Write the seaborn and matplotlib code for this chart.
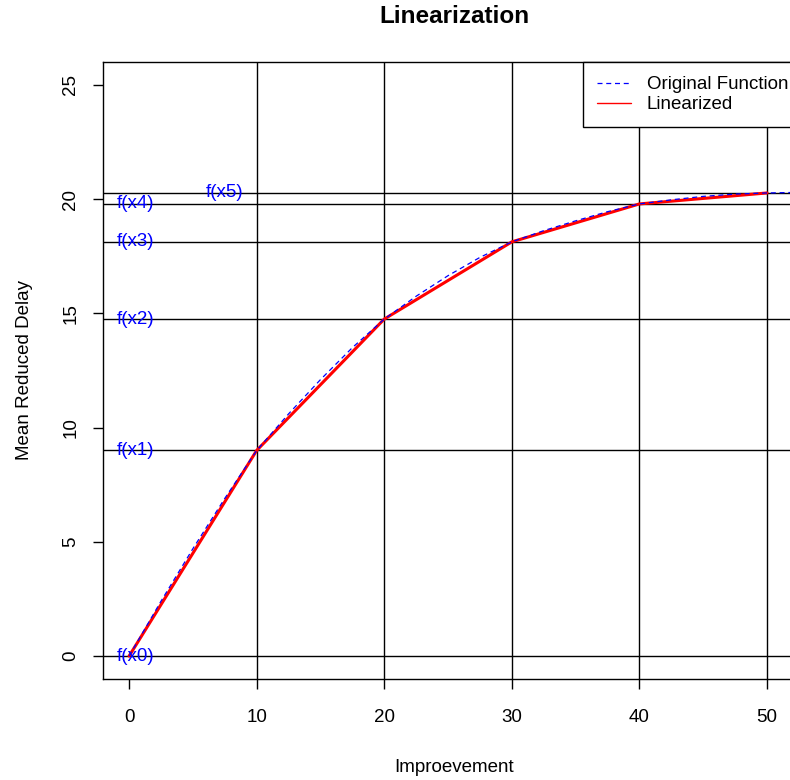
import pandas as pd
import matplotlib
matplotlib.use("Agg")
import matplotlib.pyplot as plt
import seaborn as sns
from matplotlib.lines import Line2D

# breakpoints of the piecewise linear approximation
x_break = [0, 10, 20, 30, 40, 50]
f_break = [0.0, 9.0, 14.75, 18.13, 19.79, 20.27]
break_labels = ["f(x0)", "f(x1)", "f(x2)", "f(x3)", "f(x4)", "f(x5)"]
label_x = [0.5, 0.5, 0.5, 0.5, 0.5, 7.5]

# original (smooth) function
x_orig = [0, 2.5, 5, 7.5, 10, 12.5, 15, 17.5, 20, 22.5, 25, 27.5, 30,
          32.5, 35, 37.5, 40, 42.5, 45, 47.5, 50, 53]
y_orig = [0.0, 2.4, 4.7, 6.9, 9.0, 10.6, 12.1, 13.5, 14.75, 15.75, 16.65,
          17.45, 18.13, 18.62, 19.05, 19.45, 19.79, 19.97, 20.12, 20.22,
          20.27, 20.30]

x_ticks = [0, 10, 20, 30, 40, 50]
y_ticks = [0, 5, 10, 15, 20, 25]

sns.set_style("ticks")
plt.rcParams['font.family'] = ['Liberation Sans', 'DejaVu Sans']
plt.rcParams['text.color'] = 'black'
plt.rcParams['axes.labelcolor'] = 'black'
plt.rcParams['xtick.color'] = 'black'
plt.rcParams['ytick.color'] = 'black'

fig = plt.figure(figsize=(7.9, 7.8), dpi=100)
ax = fig.add_axes([0.1304, 0.1295, 0.889, 0.791])

# reference lines at the breakpoints
for xv in x_break[1:]:
    ax.axvline(xv, color='black', lw=1, zorder=1)
for fv in f_break:
    ax.axhline(fv, color='black', lw=1, zorder=1)

orig = pd.DataFrame({'x': x_orig, 'y': y_orig})
lin = pd.DataFrame({'x': x_break, 'y': f_break})

sns.lineplot(data=orig, x='x', y='y', ax=ax, color='blue', lw=0.9,
             linestyle=(0, (4, 3)), zorder=3)
sns.lineplot(data=lin, x='x', y='y', ax=ax, color='red', lw=2.2, zorder=2)

for lx, fv, lab in zip(label_x, f_break, break_labels):
    ax.text(lx, fv, lab, color='blue', fontsize=13.5, ha='center', va='center', zorder=4)

ax.set_xlim(-2.04, 53)
ax.set_ylim(-1.0, 26.0)
ax.set_xticks(x_ticks)
ax.set_yticks(y_ticks)
ax.tick_params(axis='both', direction='out', length=7, width=1, labelsize=13.5)
ax.tick_params(axis='x', pad=14.5)
ax.tick_params(axis='y', pad=10)
for lbl in ax.get_yticklabels():
    lbl.set_rotation(90)
    lbl.set_va('center')
for sp in ax.spines.values():
    sp.set_visible(True)
    sp.set_color('black')
    sp.set_linewidth(1)

ax.set_xlabel('Improevement', fontsize=13.5, labelpad=24)
ax.set_ylabel('Mean Reduced Delay', fontsize=13.5, labelpad=21)
ax.set_title('Linearization', fontsize=17.5, fontweight='bold', pad=28)

handles = [Line2D([], [], color='blue', lw=0.9, linestyle=(0, (4, 3))),
           Line2D([], [], color='red', lw=1)]
leg = ax.legend(handles, ['Original Function', 'Linearized'], loc='upper left',
                bbox_to_anchor=(583 / 790, 1 - 62 / 780), bbox_transform=fig.transFigure,
                fontsize=13.5, frameon=True, fancybox=False, borderaxespad=0,
                handlelength=1.8, handletextpad=0.85, labelspacing=0.15, borderpad=0.75)
leg.get_frame().set_edgecolor('black')
leg.get_frame().set_linewidth(1)
leg.get_frame().set_alpha(1)

fig.savefig('out.png', dpi=100)
